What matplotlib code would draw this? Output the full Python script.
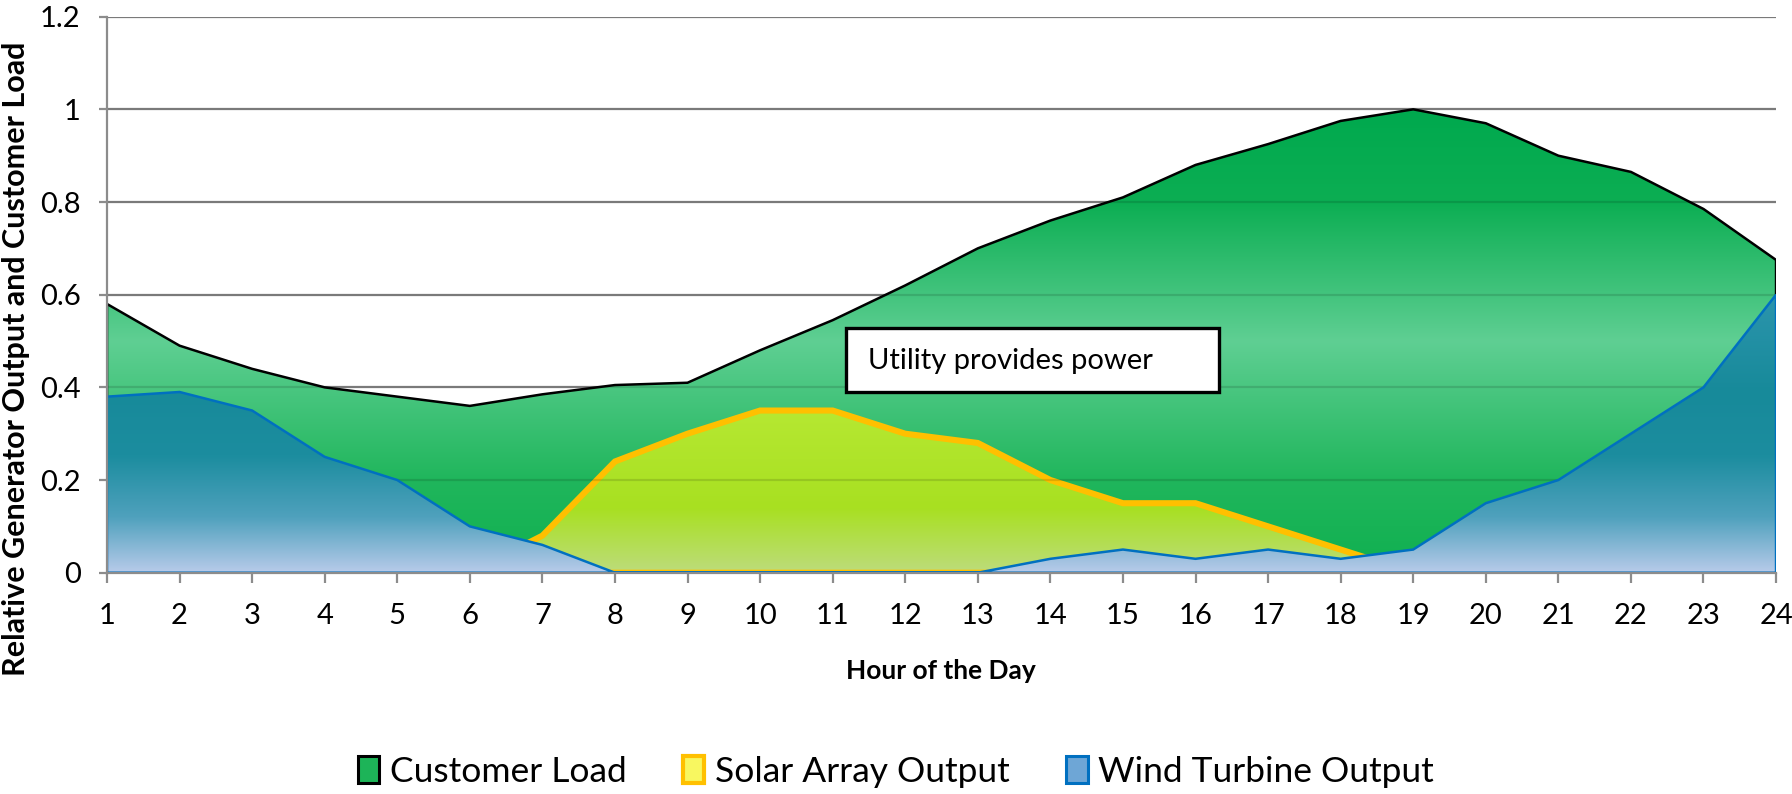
import numpy as np
import matplotlib.pyplot as plt
from matplotlib.colors import to_rgb
from matplotlib.patches import Rectangle

plt.rcParams['font.family'] = ['Lato', 'DejaVu Sans']

hours = np.arange(1, 25)
customer_load = [0.58, 0.49, 0.44, 0.40, 0.38, 0.36, 0.385, 0.405, 0.41, 0.48, 0.545, 0.62,
                 0.70, 0.76, 0.81, 0.88, 0.925, 0.975, 1.00, 0.97, 0.90, 0.865, 0.785, 0.675]
solar_output = [0, 0, 0, 0, 0, 0, 0.08, 0.24, 0.30, 0.35, 0.35, 0.30,
                0.28, 0.20, 0.15, 0.15, 0.10, 0.05, 0, 0, 0, 0, 0, 0]
wind_output = [0.38, 0.39, 0.35, 0.25, 0.20, 0.10, 0.06, 0, 0, 0, 0, 0,
               0, 0.03, 0.05, 0.03, 0.05, 0.03, 0.05, 0.15, 0.20, 0.30, 0.40, 0.60]
series_names = ["Customer Load", "Solar Array Output", "Wind Turbine Output"]
y_ticks = [0, 0.2, 0.4, 0.6, 0.8, 1, 1.2]
y_tick_labels = ["0", "0.2", "0.4", "0.6", "0.8", "1", "1.2"]

GRAY = '#8c8c8c'


def gradient_area(ax, x, y, stops, edge, lw, z):
    y = np.asarray(y, dtype=float)
    poly = ax.fill_between(x, y, 0, facecolor='none', edgecolor=edge,
                           linewidth=lw, zorder=z + 0.1, joinstyle='miter')
    top = max(y.max(), 1e-3)
    ys = np.linspace(0, top, 256)
    pos = [p * top for p, _ in stops]
    cols = np.array([to_rgb(c) for _, c in stops])
    img = np.stack([np.interp(ys, pos, cols[:, i]) for i in range(3)], axis=-1)[:, None, :]
    im = ax.imshow(img, extent=[x[0], x[-1], 0, top], origin='lower', aspect='auto',
                   interpolation='bilinear', zorder=z)
    im.set_clip_path(poly.get_paths()[0], transform=ax.transData)
    return poly


fig = plt.figure(figsize=(17.92, 7.94), dpi=100)
ax = fig.add_axes([0.0597, 0.2787, 0.9314, 0.7003])

# grid behind everything
for v in y_ticks[1:]:
    ax.axhline(v, color=GRAY, lw=1.6, zorder=0.5)

gradient_area(ax, hours, customer_load,
              [(0, '#10b050'), (0.2, '#20b65c'), (0.5, '#5fcf93'), (0.8, '#0cae53'), (1, '#00a94e')],
              'black', 1.8, 1)
gradient_area(ax, hours, solar_output,
              [(0, '#bddc7c'), (0.4, '#a8e021'), (1, '#b6e832')],
              '#ffc000', 4.4, 2)
# gridlines showing faintly through the load / solar fills
for v in y_ticks[1:]:
    ax.axhline(v, color='black', alpha=0.12, lw=1.6, zorder=2.5)
gradient_area(ax, hours, wind_output,
              [(0, '#b8cbea'), (0.2, '#4fa1bd'), (0.42, '#1c8d9f'), (0.65, '#178a9a'), (1, '#2c95ad')],
              '#0070c0', 1.8, 3)

ax.set_xlim(1, 24)
ax.set_ylim(0, 1.2)
ax.set_xticks(hours)
ax.set_xticklabels([str(h) for h in hours])
ax.set_yticks(y_ticks)
ax.set_yticklabels(y_tick_labels)
ax.tick_params(axis='x', length=7, width=1.6, color=GRAY, pad=15, labelsize=21)
ax.tick_params(axis='y', length=6, width=1.6, color=GRAY, pad=13, labelsize=21)
for s in ['top', 'right']:
    ax.spines[s].set_visible(False)
for s in ['left', 'bottom']:
    ax.spines[s].set_color(GRAY)
    ax.spines[s].set_linewidth(1.6)
    ax.spines[s].set_zorder(4)

# annotation box
ax.add_patch(Rectangle((11.18, 0.389), 16.32 - 11.18, 0.529 - 0.389, facecolor='white',
                       edgecolor='black', linewidth=2.4, zorder=5))
ax.text(11.49, 0.457, "Utility provides power", fontsize=21, va='center', ha='left', zorder=6)

fig.text(16 / 1792, 1 - 359 / 794, "Relative Generator Output and Customer Load",
         rotation=90, ha='center', va='center', fontsize=22, fontweight='bold')
fig.text(941 / 1792, 1 - 679 / 794, "Hour of the Day", ha='center', va='baseline',
         fontsize=19, fontweight='bold')

handles = [Rectangle((0, 0), 1, 1, facecolor='#1db458', edgecolor='black', linewidth=2.2),
           Rectangle((0, 0), 1, 1, facecolor='#f8f760', edgecolor='#ffc000', linewidth=3),
           Rectangle((0, 0), 1, 1, facecolor='#6ea6d6', edgecolor='#0070c0', linewidth=2.2)]
fig.legend(handles, series_names, loc='center', bbox_to_anchor=(896 / 1792, 1 - 772 / 794),
           ncol=3, frameon=False, fontsize=25.5, handlelength=0.6, handleheight=0.78,
           handletextpad=0.3, columnspacing=1.6, borderpad=0, borderaxespad=0)

fig.savefig("out.png", dpi=100)
